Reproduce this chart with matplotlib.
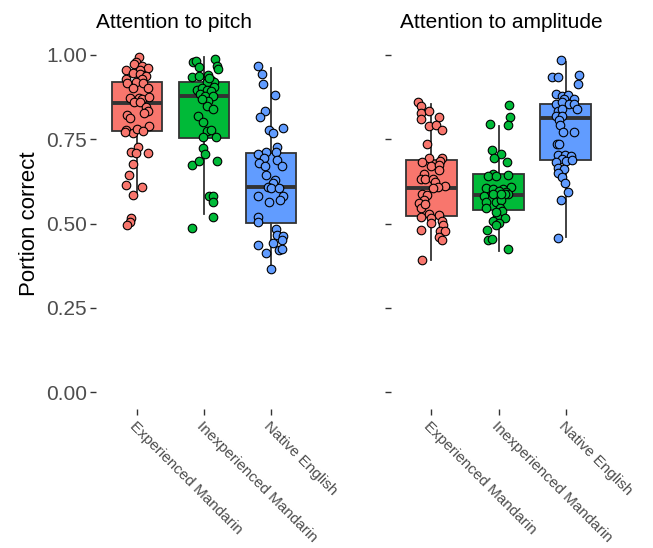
import matplotlib
matplotlib.use("Agg")
import matplotlib.pyplot as plt

plt.rcParams["font.family"] = ["Liberation Sans", "DejaVu Sans"]

groups = ["Experienced Mandarin", "Inexperienced Mandarin", "Native English"]
panel_titles = ["Attention to pitch", "Attention to amplitude"]
colors = ["#F8766D", "#00BA38", "#619CFF"]

# Portion correct per participant (with the horizontal jitter seen there)
pitch_exp = [0.993, 0.980, 0.973, 0.966, 0.960, 0.955, 0.956, 0.946, 0.943, 0.938, 0.929, 0.927,
             0.921, 0.916, 0.917, 0.903, 0.901, 0.871, 0.873, 0.869, 0.874, 0.861, 0.859, 0.844,
             0.834, 0.829, 0.821, 0.813, 0.790, 0.777, 0.768, 0.780, 0.772, 0.774, 0.728, 0.712,
             0.710, 0.710, 0.676, 0.644, 0.615, 0.608, 0.585, 0.517, 0.505, 0.497]
pitch_exp_jit = [0.03, -0.01, -0.04, 0.08, 0.17, -0.16, 0.05, -0.05, 0.04, 0.14, -0.16, 0.07,
                 -0.01, -0.15, 0.09, -0.06, 0.17, -0.10, 0.03, 0.07, 0.18, -0.04, 0.04, 0.13,
                 0.17, 0.11, -0.15, -0.10, 0.18, -0.16, -0.06, 0.01, -0.18, 0.09, 0.02, -0.08,
                 -0.01, 0.17, -0.05, -0.11, -0.16, 0.07, -0.05, -0.09, -0.10, -0.15]

pitch_inexp = [0.978, 0.983, 0.988, 0.968, 0.958, 0.963, 0.934, 0.938, 0.940, 0.924, 0.919, 0.919,
               0.906, 0.897, 0.901, 0.897, 0.894, 0.884, 0.879, 0.879, 0.864, 0.849, 0.839, 0.818,
               0.801, 0.775, 0.776, 0.755, 0.755, 0.725, 0.705, 0.673, 0.685, 0.685, 0.583, 0.582,
               0.563, 0.520, 0.487, 0.930, 0.869]
pitch_inexp_jit = [-0.17, -0.12, 0.16, 0.19, 0.21, -0.08, -0.18, -0.08, 0.06, 0.11, 0.15, 0.05,
                   0.15, -0.11, -0.03, 0.04, 0.11, -0.06, 0.01, 0.14, 0.06, 0.04, 0.14, -0.09,
                   -0.01, 0.05, 0.10, -0.02, 0.18, -0.02, 0.02, -0.18, -0.08, 0.20, 0.08, 0.13,
                   0.14, 0.13, -0.18, 0.07, -0.03]

pitch_native = [0.966, 0.943, 0.914, 0.881, 0.834, 0.816, 0.778, 0.768, 0.782, 0.728, 0.712, 0.705,
                0.712, 0.693, 0.679, 0.671, 0.688, 0.671, 0.644, 0.629, 0.619, 0.609, 0.606, 0.606,
                0.583, 0.581, 0.571, 0.565, 0.520, 0.504, 0.484, 0.467, 0.464, 0.452, 0.442, 0.435,
                0.420, 0.425, 0.413, 0.365]
pitch_native_jit = [-0.19, -0.13, -0.12, 0.05, -0.09, -0.16, -0.04, 0.03, 0.17, 0.09, -0.08, -0.19,
                    0.07, -0.10, -0.18, -0.09, 0.08, 0.16, -0.08, 0.05, 0.03, -0.05, 0.00, 0.12,
                    -0.20, 0.18, 0.13, -0.03, -0.19, -0.19, 0.07, 0.08, 0.18, 0.16, 0.02, -0.20,
                    0.12, 0.16, -0.07, 0.00]

amp_exp = [0.859, 0.849, 0.829, 0.834, 0.810, 0.815, 0.790, 0.793, 0.777, 0.737, 0.695, 0.683,
           0.695, 0.685, 0.671, 0.673, 0.658, 0.648, 0.631, 0.633, 0.631, 0.611, 0.624, 0.608,
           0.606, 0.588, 0.584, 0.571, 0.560, 0.545, 0.557, 0.529, 0.525, 0.517, 0.519, 0.507,
           0.495, 0.502, 0.482, 0.477, 0.477, 0.459, 0.452, 0.391]
amp_exp_jit = [-0.20, -0.16, -0.15, -0.04, -0.16, 0.11, -0.04, 0.07, 0.16, -0.07, -0.04, -0.14,
               0.16, 0.13, -0.01, 0.12, 0.11, -0.11, -0.16, -0.10, 0.02, 0.20, 0.06, 0.10,
               0.02, -0.14, -0.06, -0.11, -0.19, -0.15, -0.10, -0.04, 0.11, -0.01, -0.15, 0.16,
               0.18, 0.00, -0.15, 0.13, 0.20, 0.11, 0.16, -0.14]

amp_inexp = [0.852, 0.816, 0.795, 0.792, 0.717, 0.707, 0.693, 0.681, 0.646, 0.641, 0.641, 0.643,
             0.606, 0.603, 0.601, 0.608, 0.594, 0.596, 0.588, 0.581, 0.586, 0.565, 0.565, 0.547,
             0.571, 0.547, 0.537, 0.519, 0.515, 0.507, 0.502, 0.495, 0.482, 0.452, 0.455, 0.423,
             0.586, 0.586, 0.533]
amp_inexp_jit = [0.16, 0.17, -0.13, 0.14, -0.09, 0.04, -0.06, 0.12, -0.08, -0.16, -0.04, 0.14,
                 -0.19, -0.08, 0.06, 0.18, 0.11, 0.01, 0.14, -0.21, 0.09, -0.19, -0.04, -0.18,
                 0.04, 0.02, 0.05, -0.02, 0.09, -0.08, 0.00, -0.04, -0.17, -0.16, -0.09, 0.14,
                 -0.08, 0.04, -0.04]

amp_native = [0.985, 0.935, 0.935, 0.940, 0.914, 0.884, 0.879, 0.882, 0.869, 0.869, 0.854, 0.859,
              0.854, 0.854, 0.839, 0.834, 0.839, 0.819, 0.819, 0.807, 0.793, 0.772, 0.772, 0.735,
              0.735, 0.702, 0.702, 0.700, 0.690, 0.681, 0.685, 0.688, 0.666, 0.661, 0.651, 0.638,
              0.621, 0.593, 0.569, 0.457]
amp_native_jit = [-0.07, -0.20, -0.11, 0.20, 0.18, -0.14, -0.05, 0.04, -0.02, 0.12, -0.14, -0.06,
                  0.05, 0.12, 0.17, -0.12, -0.06, -0.14, -0.05, -0.10, -0.08, -0.04, 0.12, -0.13,
                  -0.10, -0.11, -0.01, 0.08, -0.06, -0.15, 0.01, 0.10, -0.12, -0.02, -0.11, -0.06,
                  -0.01, 0.03, -0.07, -0.12]

# Box summaries as drawn in the reference (q1, median, q3, whisker ends)
pitch_q1 = [0.773, 0.753, 0.502]
pitch_med = [0.858, 0.879, 0.608]
pitch_q3 = [0.920, 0.920, 0.710]
pitch_lo = [0.590, 0.527, 0.363]
pitch_hi = [0.993, 0.995, 0.960]

amp_q1 = [0.521, 0.541, 0.688]
amp_med = [0.605, 0.584, 0.813]
amp_q3 = [0.688, 0.646, 0.855]
amp_lo = [0.393, 0.418, 0.460]
amp_hi = [0.854, 0.790, 0.980]

panels = [
    dict(points=[(pitch_exp, pitch_exp_jit), (pitch_inexp, pitch_inexp_jit), (pitch_native, pitch_native_jit)],
         q1=pitch_q1, med=pitch_med, q3=pitch_q3, lo=pitch_lo, hi=pitch_hi),
    dict(points=[(amp_exp, amp_exp_jit), (amp_inexp, amp_inexp_jit), (amp_native, amp_native_jit)],
         q1=amp_q1, med=amp_med, q3=amp_q3, lo=amp_lo, hi=amp_hi),
]

W, H = 653, 548
fig = plt.figure(figsize=(W / 100, H / 100), dpi=100)
ax_left = [96.5 / W, 391 / W]
ax_w = 215 / W
ax_bottom = 1 - 409 / H
ax_h = 371 / H

dark = "#333333"
tick_col = "#4D4D4D"

for p, (panel, title) in enumerate(zip(panels, panel_titles)):
    ax = fig.add_axes([ax_left[p], ax_bottom, ax_w, ax_h])
    stats = []
    for i in range(3):
        stats.append(dict(med=panel["med"][i], q1=panel["q1"][i], q3=panel["q3"][i],
                          whislo=panel["lo"][i], whishi=panel["hi"][i], fliers=[]))
    bp = ax.bxp(stats, positions=[1, 2, 3], widths=0.75, patch_artist=True, showcaps=False,
                showfliers=False,
                boxprops=dict(edgecolor=dark, linewidth=1.3),
                medianprops=dict(color=dark, linewidth=2.8, solid_capstyle="butt"),
                whiskerprops=dict(color=dark, linewidth=1.3))
    for patch, c in zip(bp["boxes"], colors):
        patch.set_facecolor(c)

    # jittered participant points on top of the boxes
    for i, (vals, jit) in enumerate(panel["points"]):
        xs = [i + 1 + j for j in jit]
        ax.scatter(xs, vals, s=38, color=colors[i], edgecolor="black", linewidth=0.8, zorder=3)

    ax.set_xlim(0.4, 3.6)
    ax.set_ylim(-0.05, 1.05)
    ax.set_yticks([0, 0.25, 0.5, 0.75, 1.0])
    ax.set_xticks([1, 2, 3])
    ax.set_xticklabels(groups, rotation=-45, ha="left", va="top", rotation_mode="anchor",
                       fontsize=11, color=tick_col)
    if p == 0:
        ax.set_yticklabels(["0.00", "0.25", "0.50", "0.75", "1.00"], fontsize=15, color=tick_col)
        ax.set_ylabel("Portion correct", fontsize=16, color="black")
        ax.yaxis.set_label_coords(-0.265, 0.5)
    else:
        ax.set_yticklabels([])
    ax.tick_params(axis="both", length=4, width=1, color=dark, pad=3)
    for s in ax.spines.values():
        s.set_visible(False)
    ax.set_title(title, loc="left", fontsize=15, color="black", pad=7,
                 x=0.0 if p == 0 else 0.04)

fig.savefig("out.png", dpi=100)
